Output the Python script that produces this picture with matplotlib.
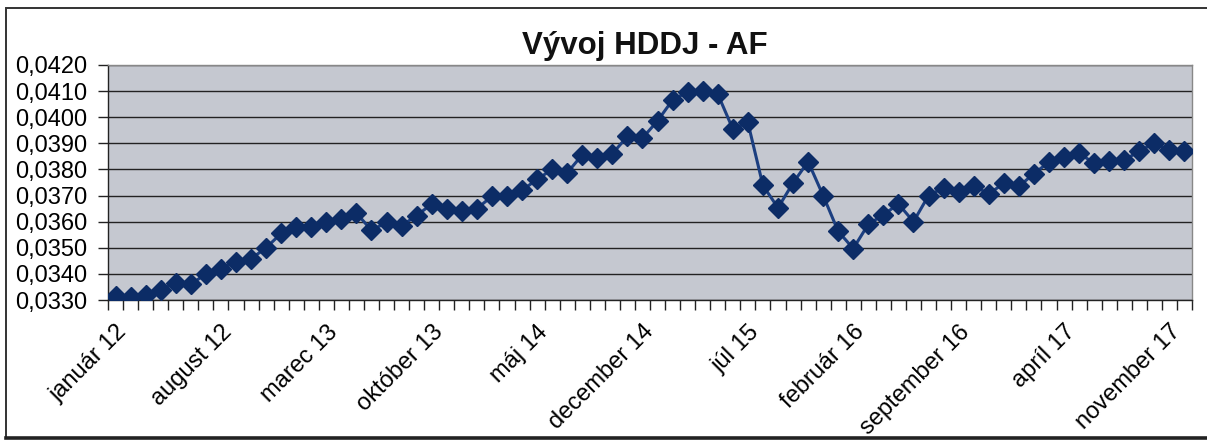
import matplotlib
matplotlib.use("Agg")
import matplotlib.pyplot as plt
from matplotlib.ticker import FixedLocator, FuncFormatter
from matplotlib.patches import Rectangle
from matplotlib.lines import Line2D

plt.rcParams['font.family'] = ['Liberation Sans', 'DejaVu Sans']

title = "Vývoj HDDJ - AF"
months = ["január", "február", "marec", "apríl", "máj", "jún", "júl", "august",
          "september", "október", "november", "december"]
years = [12, 13, 14, 15, 16, 17]
categories = [f"{m} {y}" for y in years for m in months]  # január 12 .. december 17

values = [
    0.03315, 0.03310, 0.03320, 0.03340, 0.03365, 0.03360, 0.03400, 0.03420,
    0.03447, 0.03458, 0.03500, 0.03555, 0.03578, 0.03578, 0.03600, 0.03610,
    0.03633, 0.03567, 0.03597, 0.03585, 0.03623, 0.03668, 0.03650, 0.03640,
    0.03650, 0.03697, 0.03700, 0.03720, 0.03762, 0.03800, 0.03787, 0.03856,
    0.03844, 0.03860, 0.03927, 0.03920, 0.03986, 0.04066, 0.04097, 0.04100,
    0.04089, 0.03955, 0.03980, 0.03739, 0.03653, 0.03748, 0.03830, 0.03700,
    0.03563, 0.03497, 0.03590, 0.03626, 0.03668, 0.03600, 0.03700, 0.03730,
    0.03714, 0.03738, 0.03706, 0.03747, 0.03735, 0.03784, 0.03828, 0.03849,
    0.03862, 0.03824, 0.03834, 0.03835, 0.03871, 0.03900, 0.03874, 0.03872,
]
yticks = [0.0330, 0.0340, 0.0350, 0.0360, 0.0370, 0.0380, 0.0390, 0.0400, 0.0410, 0.0420]
label_step = 7

W, H = 1207, 443
fig = plt.figure(figsize=(W / 100, H / 100), dpi=100)
fig.patch.set_facecolor("white")

# outer chart frame
frame = Rectangle((6 / W, 1 - 438 / H), (W + 20) / W, (438 - 8) / H,
                  transform=fig.transFigure, fill=False, edgecolor="#333333",
                  linewidth=1.4, zorder=0)
fig.add_artist(frame)
fig.add_artist(Line2D([6 / W, 1.0], [1 - 438 / H, 1 - 438 / H], transform=fig.transFigure,
                      color="#222222", linewidth=2.6))

left, right, top, bottom = 108, 1192, 65, 300
ax = fig.add_axes([left / W, 1 - bottom / H, (right - left) / W, (bottom - top) / H])
ax.set_facecolor("#c5c8d0")

x = list(range(len(values)))
ax.plot(x, values, color="#1c3f80", linewidth=2.2, marker="D", markersize=10,
        markerfacecolor="#0c2c66", markeredgecolor="#0c2c66", zorder=3)

ax.set_xlim(-0.5, len(values) - 0.5)
ax.set_ylim(yticks[0], yticks[-1])
ax.set_yticks(yticks)
ax.yaxis.set_major_formatter(FuncFormatter(lambda v, p: f"{v:.4f}".replace(".", ",")))
ax.yaxis.grid(True, color="#222222", linewidth=1.0)
ax.set_axisbelow(True)

ax.xaxis.set_major_locator(FixedLocator(list(range(0, len(values), label_step))))
ax.set_xticklabels([categories[i] for i in range(0, len(values), label_step)],
                   rotation=45, ha="right", rotation_mode="anchor", fontsize=17)
ax.xaxis.set_minor_locator(FixedLocator([i - 0.5 for i in range(len(values) + 1)]))
ax.tick_params(axis="x", which="major", length=0, pad=15)
ax.tick_params(axis="x", which="minor", length=7, width=1.0, color="#222222", direction="out")
ax.tick_params(axis="y", which="major", length=7, width=1.0, color="#222222",
               labelsize=17, pad=8)

for side in ["left", "bottom"]:
    ax.spines[side].set_color("#222222")
    ax.spines[side].set_linewidth(1.0)
for side in ["top", "right"]:
    ax.spines[side].set_color("#888888")
    ax.spines[side].set_linewidth(1.0)

fig.text(645 / W, 1 - 46 / H, title, ha="center", va="center",
         fontsize=22.5, fontweight="bold", color="#111111")

fig.savefig("out.png", dpi=100)
